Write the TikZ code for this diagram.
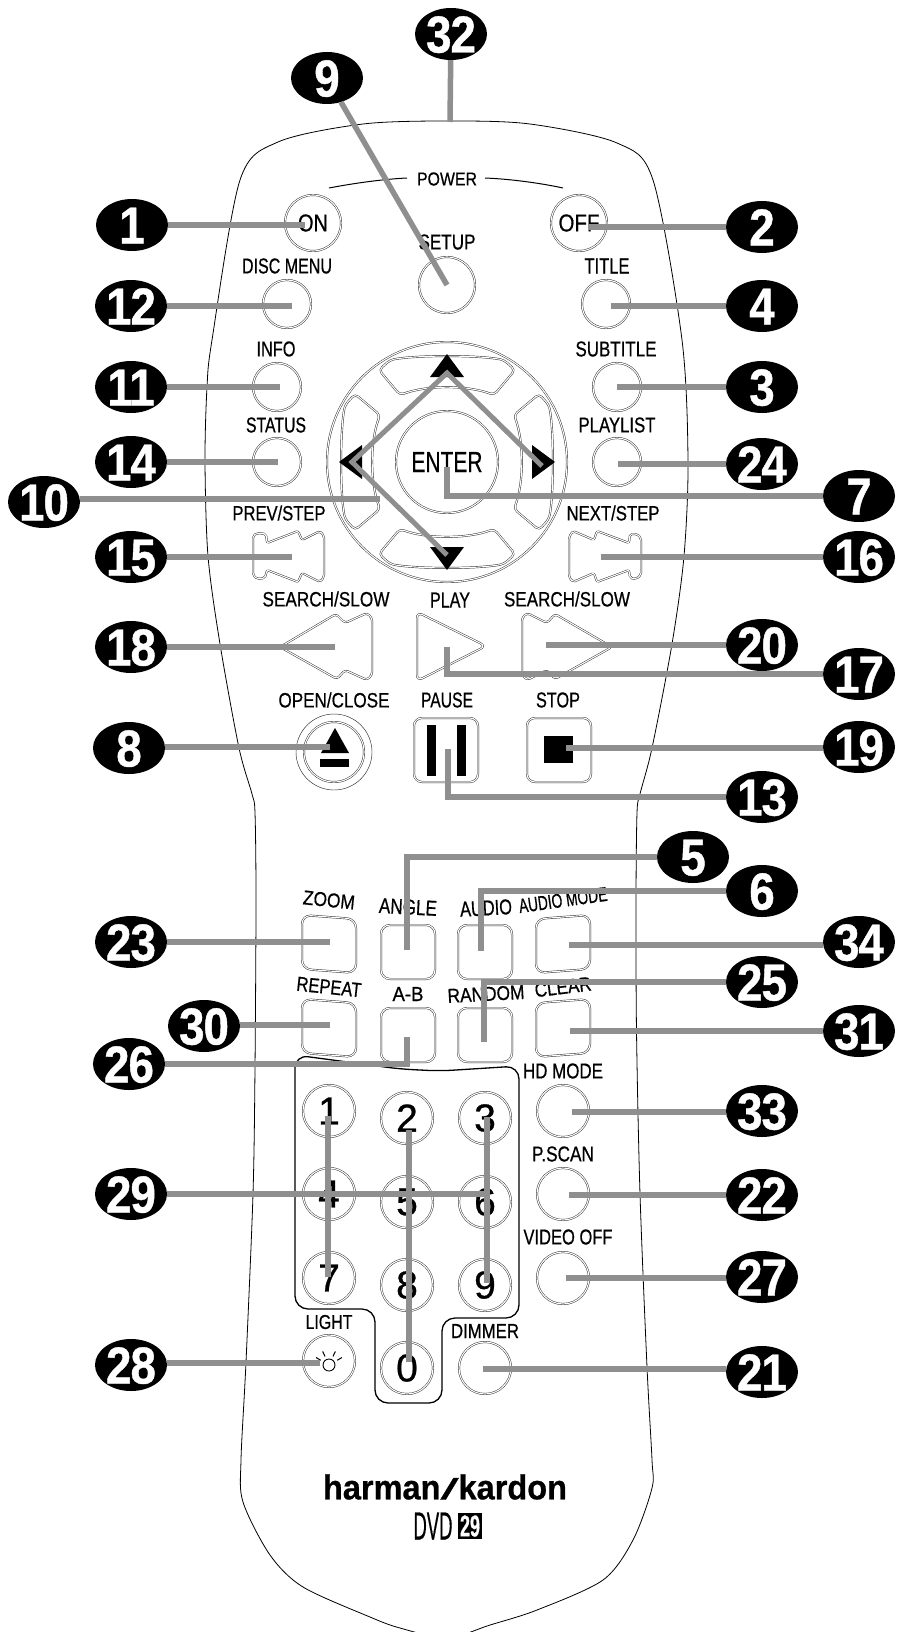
\documentclass[tikz,border=0pt]{standalone}
\usepackage{graphicx}
\usepackage{fontspec}
\usepackage{tikz}
\usetikzlibrary{shapes.geometric}
\setmainfont[FakeBold=0.7]{Liberation Sans}
\newfontfamily\badgefont[LetterSpace=-2,FakeStretch=0.88,FakeBold=0.8]{Liberation Sans Bold}
\newcommand{\lab}[3]{\resizebox{#1pt}{#2pt}{#3}}
\newcommand{\badgenum}[1]{\makebox[0pt]{\smash{\raisebox{-18.5pt}{#1}}}}
\definecolor{leadgray}{HTML}{8F8F8F}
\tikzset{
  btnline/.style={draw=black!85,line width=0.45pt,double=white,double distance=1.1pt},
  roundbtn/.style={btnline,circle,inner sep=0pt},
  leader/.style={draw=leadgray,line width=5.5pt},
  badge/.style={ellipse,fill=black,text=white,minimum width=72pt,minimum height=52pt,inner sep=0pt,font=\badgefont\fontsize{52}{52}\selectfont},
  keydigit/.style={font=\fontsize{39}{39}\selectfont}
}
\begin{document}
\begin{tikzpicture}[x=1pt,y=-1pt]
\useasboundingbox (0,0) rectangle (906,1632);
% remote body
\draw[line width=0.8pt] plot[smooth cycle,tension=0.5] coordinates {(450,121) (530,124) (617,143) (653,180) (682,340) (688,461) (684,556) (672,644) (652,748) (640,794) (637,813) (636,900) (636.5,1031) (640,1194) (647,1367) (652,1460) (652,1488) (633,1540) (603,1580) (537,1610) (490,1625) (447,1638) (400,1628) (370,1617) (303,1587) (270,1555) (243,1502) (241,1460) (246,1362) (253,1194) (255,1068) (256,900) (255,813) (252,794) (239,748) (220,644) (208,556) (205,461) (207,387) (212,340) (240,180) (278,142) (363,124)};
% power bracket
\draw[line width=1pt] (329,188) .. controls (355,183) and (385,179) .. (407,178);
\draw[line width=1pt] (485,178) .. controls (510,179) and (540,183) .. (563,188);

% round buttons
\foreach \nm/\x/\y/\r in {setup/447/285/28,discmenu/287/304/24,title/606/304/24,info/277/387/24,status/277/462/24,subtitle/617/387/24,playlist/617/462/24,hdmode/563/1111/26,pscan/563/1194/26,videooff/563/1278/26,light/329/1361/26,dimmer/485/1368/26} {
    \node[roundbtn,minimum size=2*\r pt] (\nm) at (\x,\y) {};
}
\node[roundbtn,minimum size=56pt] (on) at (313,223) {\lab{30}{17}{ON}};
\node[roundbtn,minimum size=56pt] (off) at (579,223) {\lab{41}{17}{OFF}};

% number keys
\foreach \d/\x/\y in {1/329/1111,2/407/1118,3/485/1118,4/329/1194,5/407/1202,6/485/1202,7/329/1278,8/407/1285,9/485/1285,0/407/1368} {
    \node[roundbtn,minimum size=52pt,keydigit] (num\d) at (\x,\y) {\d};
}
\draw[line width=1.3pt,rounded corners=13pt] (295,1055) -- (400,1069) -- (440,1071) -- (519,1066) -- (519,1318) -- (442,1318) -- (442,1403) -- (375,1403) -- (375,1309) -- (295,1309) -- cycle;

% light icon
\node[draw,circle,line width=0.9pt,minimum size=12pt,inner sep=0pt] (bulb) at (329,1365) {};
\foreach \a in {-150,-115,-65,-30} {
    \draw[line width=1pt,shift={(329,1365)}] (\a:9.5) -- (\a:15);
}

% disc keys
\node[btnline,circle,minimum size=240pt,inner sep=0pt] (ring) at (447,462) {};
\node[btnline,circle,minimum size=102pt,inner sep=0pt] (enter) at (447,462) {\lab{71}{20}{ENTER}};
\foreach \a in {0,90,180,270} {
    \draw[btnline,rounded corners=4pt,shift={(447,462)},rotate=\a] (-68,-92) -- (-57,-102) .. controls (-30,-107) and (30,-107) .. (57,-102) -- (68,-92) -- (47,-67) .. controls (20,-77) and (-20,-77) .. (-47,-67) -- cycle;
    \fill[shift={(447,462)},rotate=\a] (0,-108) -- (17,-85) -- (-17,-85) -- cycle;
}

% transport keys
\draw[btnline,rounded corners=2pt] (253,536) -- (257,533) -- (266,534) -- (267,543) -- (298,531) -- (302,540) -- (320,531) -- (324,536) -- (324,577) -- (320,582) -- (302,573) -- (298,582) -- (267,570) -- (265,578) -- (257,579) -- (253,575) -- cycle;
\draw[btnline,rounded corners=2pt] (569,537) -- (573,531) -- (594,540) -- (597,531) -- (629,543) -- (630,534) -- (637,534) -- (641,538) -- (641,575) -- (636,579) -- (630,578) -- (629,570) -- (597,582) -- (594,573) -- (573,582) -- (569,577) -- cycle;
\draw[btnline,rounded corners=3pt] (280,647) -- (336,614) -- (345,623) -- (367,613) -- (372,618) -- (372,675) -- (367,680) -- (345,670) -- (337,679) -- cycle;
\draw[btnline,rounded corners=6pt] (417,612) -- (486,646) -- (417,681) -- cycle;
\draw[btnline,rounded corners=3pt] (612,647) -- (555,679) -- (547,670) -- (527,680) -- (522,675) -- (522,618) -- (527,613) -- (547,623) -- (555,614) -- cycle;

% eject, pause, stop
\node[draw=black!85,line width=0.45pt,circle,minimum size=76pt,inner sep=0pt] (eject) at (334,752) {};
\node[roundbtn,minimum size=60pt] (ejectin) at (334,752) {};
\fill (335,728) -- (349,753) -- (321,753) -- cycle;
\fill (320,759) rectangle (349,767);
\draw[btnline,rounded corners=8pt] (414,718) rectangle (478,782);
\foreach \x in {423,453} {
    \draw[btnline] (\x,721) rectangle (\x+17,780);
    \fill (\x+4,725) rectangle (\x+13,776);
}
\draw[btnline,rounded corners=8pt] (527,718) rectangle (591,782);
\fill (544,736) rectangle (573,763);

% square keys, the outer ones lean
\foreach \x/\y/\t in {329/944/2,408/952/0,485/952/0,563/944/-2,329/1028/2,408/1035/0,485/1035/0,563/1028/-2} {
    \draw[btnline,rounded corners=9pt,shift={(\x,\y)}] (-27,-27-\t) -- (27,-27+\t) -- (27,27+\t) -- (-27,27-\t) -- cycle;
}

% labels
\node (powerlab) at (447,179) {\lab{60}{13}{POWER}};
\node (setuplab) at (447,242) {\lab{57}{15}{SETUP}};
\node (disclab) at (287,266) {\lab{90}{15}{DISC MENU}};
\node (titlelab) at (607,266) {\lab{45}{15}{TITLE}};
\node (infolab) at (276,349) {\lab{39}{15}{INFO}};
\node (statuslab) at (276,425) {\lab{60}{15}{STATUS}};
\node (sublab) at (616,349) {\lab{81}{15}{SUBTITLE}};
\node (listlab) at (617,425) {\lab{77}{15}{PLAYLIST}};
\node (prevlab) at (279,513) {\lab{93}{15}{PREV/STEP}};
\node (nextlab) at (613,513) {\lab{93}{15}{NEXT/STEP}};
\node (slowllab) at (326,599) {\lab{127}{15}{SEARCH/SLOW}};
\node (slowrlab) at (567,599) {\lab{126}{15}{SEARCH/SLOW}};
\node (playlab) at (450,600) {\lab{40}{15}{PLAY}};
\node (openlab) at (334,700) {\lab{111}{15}{OPEN/CLOSE}};
\node (pauselab) at (447,700) {\lab{52}{15}{PAUSE}};
\node (stoplab) at (558,700) {\lab{44}{15}{STOP}};
\node (hdlab) at (563,1071) {\lab{80}{15}{HD MODE}};
\node (scanlab) at (563,1154) {\lab{62}{15}{P.SCAN}};
\node (videolab) at (568,1237) {\lab{89}{15}{VIDEO OFF}};
\node[rotate=-6] (zoomlab) at (329,900) {\lab{52}{14}{ZOOM}};
\node[rotate=-3] (anglelab) at (408,907) {\lab{58}{15}{ANGLE}};
\node[rotate=3] (audiolab) at (486,908) {\lab{52}{15}{AUDIO}};
\node[rotate=8] (modelab) at (563,900) {\lab{89}{14}{AUDIO MODE}};
\node[rotate=-6] (repeatlab) at (329,987) {\lab{65}{14}{REPEAT}};
\node (ablab) at (408,994) {\lab{31}{14}{A-B}};
\node[rotate=3] (randomlab) at (486,994) {\lab{77}{14}{RANDOM}};
\node[rotate=7] (clearlab) at (563,987) {\lab{57}{14}{CLEAR}};
\node (lightlab) at (329,1322) {\lab{47}{14}{LIGHT}};
\node (dimmerlab) at (485,1331) {\lab{68}{14}{DIMMER}};
\node (brand) at (445,1487) {\lab{244}{25}{\bfseries harman\scalebox{2}[0.85]{\mdseries /}kardon}};
\node (dvd) at (433,1526) {\lab{39}{27}{DVD}};
\node[fill=black,text=white,minimum width=24pt,minimum height=26pt,inner sep=0pt] (model) at (470,1526) {\lab{20}{21}{\bfseries 29}};

% leader ends on the keys
\foreach \n/\x/\y in {1/305/225,12/292/306,11/280/387,14/278/462,10/380/499,15/292/557,18/335/647,8/330/747,23/330/942,30/330/1025,29/487/1194,28/320/1363,2/588/227,4/611/306,3/617/387,24/618/464,16/601/557,20/546/645,19/566/748,34/569/945,31/570/1031,33/572/1112,22/569/1195,27/566/1278,21/483/1369,7/447/467,17/447/647,13/448/749,5/407/950,6/481/951,25/484/1042,26/407/1037,9/447/285,32/450/122} {
    \coordinate (e\n) at (\x,\y);
}

% number badges
\foreach \n/\x/\y in {1/132/225,2/762/227,12/131/306,4/762/306,11/131/387,3/762/387,14/131/462,24/762/464,10/44/502,7/859/496,15/131/557,16/859/557,18/131/647,20/762/645,17/859/674,8/129/748,19/859/747,13/762/797,5/693/857,6/762/891,23/131/942,34/859/942,25/762/982,30/204/1026,31/859/1031,26/129/1064,33/762/1111,22/762/1195,29/131/1194,27/762/1277,21/762/1372,28/131/1365,9/327/78,32/451/34} {
    \node[badge] (b\n) at (\x,\y) {\badgenum{\n}};
}

% leaders to the left and right
\foreach \n in {1,12,11,14,10,15,18,8,23,30,29,28} {
    \draw[leader] (b\n.east |- e\n) -- (e\n);
}
\foreach \n in {2,4,3,24,16,20,19,34,31,33,22,27,21} {
    \draw[leader] (b\n.west |- e\n) -- (e\n);
}
% leaders with a bend
\foreach \n in {7,17,13,5,6,25} {
    \draw[leader] (b\n.west) -| (e\n);
}
\draw[leader] (b26.east) -| (e26);
\draw[leader] (b9) -- (e9);
\draw[leader] (b32) -- (e32);

% leaders joining the keys
\coordinate (dtop) at (447,373);
\coordinate (dleft) at (352,462);
\coordinate (dright) at (542,466);
\coordinate (dbot) at (447,555);
\draw[leader,line width=5pt] (dright) -- (dtop) -- (dleft) -- (dbot);
\coordinate (topa) at (328,1116);
\coordinate (bota) at (328,1277);
\coordinate (topb) at (409,1130);
\coordinate (botb) at (409,1362);
\coordinate (topc) at (487,1117);
\coordinate (botc) at (487,1283);
\draw[leader] (topa) -- (bota);
\draw[leader] (topb) -- (botb);
\draw[leader] (topc) -- (botc);
\end{tikzpicture}
\end{document}
